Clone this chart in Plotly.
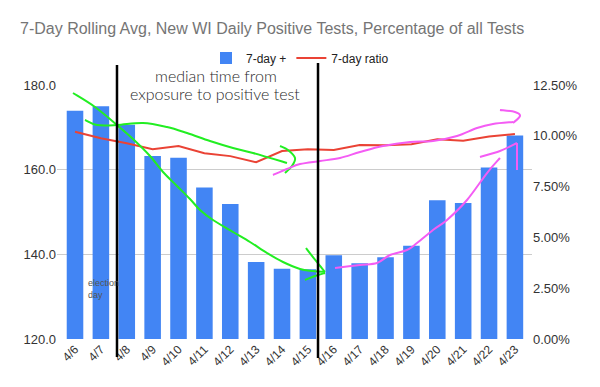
import plotly.graph_objects as go

# ---- data ----
dates = ["4/6", "4/7", "4/8", "4/9", "4/10", "4/11", "4/12", "4/13", "4/14",
         "4/15", "4/16", "4/17", "4/18", "4/19", "4/20", "4/21", "4/22", "4/23"]
positives_7day = [173.9, 175.0, 170.6, 163.2, 162.8, 155.8, 151.9, 138.2, 136.6,
                  136.5, 139.8, 137.9, 139.3, 142.0, 152.8, 152.1, 160.5, 168.1]
ratio_7day = [0.1020, 0.0988, 0.0963, 0.0934, 0.0950, 0.0914, 0.0900, 0.0870, 0.0925,
              0.0934, 0.0930, 0.0955, 0.0953, 0.0958, 0.0983, 0.0976, 0.0996, 0.1009]
left_ticks = [120, 140, 160, 180]
right_ticks = [0, 0.025, 0.05, 0.075, 0.10, 0.125]

# ---- layout geometry (pixels) ----
W, H = 600, 387
ML, MR, MT, MB = 57, 68, 85, 48
PW, PH = W - ML - MR, H - MT - MB


def px2paper(pts):
    return [((x - ML) / PW, (H - MB - y) / PH) for x, y in pts]


def smooth_path(pts):
    p = px2paper(pts)
    if len(p) == 2:
        return "M{:.4f},{:.4f} L{:.4f},{:.4f}".format(p[0][0], p[0][1], p[1][0], p[1][1])
    d = "M{:.4f},{:.4f}".format(*p[0])
    for i in range(len(p) - 1):
        p0 = p[i - 1] if i > 0 else p[i]
        p1 = p[i]
        p2 = p[i + 1]
        p3 = p[i + 2] if i + 2 < len(p) else p[i + 1]
        c1 = (p1[0] + (p2[0] - p0[0]) / 6, p1[1] + (p2[1] - p0[1]) / 6)
        c2 = (p2[0] - (p3[0] - p1[0]) / 6, p2[1] - (p3[1] - p1[1]) / 6)
        d += " C{:.4f},{:.4f} {:.4f},{:.4f} {:.4f},{:.4f}".format(c1[0], c1[1], c2[0], c2[1], p2[0], p2[1])
    return d


# hand-drawn overlay strokes (page pixels)
green_strokes = [
    [(73, 93), (95, 107), (117, 125), (133, 139), (150, 156), (163, 172), (177, 186),
     (190, 199), (200, 210), (213, 220), (233, 232), (250, 242), (267, 253),
     (283, 262), (300, 269), (313, 271), (325, 272)],
    [(306, 248), (316, 261), (325, 272)],
    [(305, 280), (315, 276), (325, 273)],
    [(85, 120), (97, 125), (117, 125), (143, 123), (167, 127), (187, 133), (210, 141),
     (233, 148), (253, 153), (287, 163)],
    [(280, 146), (288, 150), (295, 158), (292, 166), (285, 173)],
]
pink_strokes = [
    [(273, 175), (287, 169), (300, 164), (320, 161), (340, 158), (360, 152), (383, 146),
     (410, 142), (433, 141), (457, 136), (477, 128), (493, 124), (513, 122)],
    [(500, 110), (515, 112), (520, 116), (513, 123)],
    [(335, 268), (360, 265), (377, 263), (390, 255), (407, 250), (417, 243), (433, 230),
     (447, 220), (467, 200), (487, 173), (500, 158)],
    [(480, 157), (500, 151), (517, 143)],
    [(517, 143), (517, 170)],
]
black_strokes = [
    [(117, 65), (117, 357)],
    [(318, 63), (318, 358)],
]

fig = go.Figure()
fig.add_trace(go.Bar(
    x=dates, y=positives_7day, name="7-day +",
    marker=dict(color="#4285f4", line=dict(width=0)),
    yaxis="y",
))
fig.add_trace(go.Scatter(
    x=dates, y=ratio_7day, name="7-day ratio", mode="lines",
    line=dict(color="#ea4335", width=2),
    yaxis="y2",
))

shapes = []
for s in green_strokes:
    shapes.append(dict(type="path", xref="paper", yref="paper", path=smooth_path(s),
                       line=dict(color="#22ee22", width=2), layer="above"))
for s in pink_strokes:
    shapes.append(dict(type="path", xref="paper", yref="paper", path=smooth_path(s),
                       line=dict(color="#f45cf4", width=2), layer="above"))
for s in black_strokes:
    shapes.append(dict(type="path", xref="paper", yref="paper", path=smooth_path(s),
                       line=dict(color="#000000", width=2.5), layer="above"))

annotations = [
    dict(text="median time from", xref="paper", yref="paper",
         x=(216 - ML) / PW, y=(H - MB - 75) / PH, showarrow=False,
         font=dict(family="Lato", size=16, color="#2a2a2a", weight=300),
         xanchor="center", yanchor="middle"),
    dict(text="exposure to positive test", xref="paper", yref="paper",
         x=(215 - ML) / PW, y=(H - MB - 93) / PH, showarrow=False,
         font=dict(family="Lato", size=16, color="#2a2a2a", weight=300),
         xanchor="center", yanchor="middle"),
    dict(text="election<br>day", xref="paper", yref="paper",
         x=(86 - ML) / PW, y=(H - MB - 289) / PH, showarrow=False, align="left",
         font=dict(family="Liberation Sans", size=9, color="#555555"),
         xanchor="left", yanchor="middle"),
]

fig.update_layout(
    width=W, height=H,
    margin=dict(l=ML, r=MR, t=MT, b=MB, autoexpand=False),
    paper_bgcolor="white", plot_bgcolor="white",
    font=dict(family="Liberation Sans, Arial", size=12, color="#333333"),
    title=dict(text="7-Day Rolling Avg, New WI Daily Positive Tests, Percentage of all Tests",
               x=20 / W, xanchor="left", xref="container",
               y=1 - 28 / H, yanchor="middle", yref="container",
               font=dict(family="Liberation Sans, Arial", size=16, color="#757575")),
    legend=dict(orientation="h", x=0.5, xanchor="center", xref="container",
                y=1 - 58 / H, yanchor="middle", yref="container",
                font=dict(size=12, color="#222222"), bgcolor="rgba(0,0,0,0)"),
    bargap=0.36,
    xaxis=dict(type="category", range=[-0.696, 17.66], tickangle=-45,
               showgrid=False, showline=False, ticks="", automargin=False,
               tickfont=dict(size=12, color="#333333")),
    yaxis=dict(range=[120, 180], tickvals=left_ticks, tickformat=".1f",
               showgrid=True, gridcolor="#cccccc", gridwidth=1, zeroline=False,
               showline=False, ticks="", automargin=False,
               tickfont=dict(size=13, color="#333333")),
    yaxis2=dict(range=[0, 0.125], tickvals=right_ticks, tickformat=".2%",
                overlaying="y", side="right", showgrid=False, zeroline=False,
                showline=False, ticks="", automargin=False,
                tickfont=dict(size=13, color="#333333")),
    shapes=shapes,
    annotations=annotations,
)

fig.write_html("out.html", config={"displayModeBar": False},
               post_script="document.body.style.margin='0';")
